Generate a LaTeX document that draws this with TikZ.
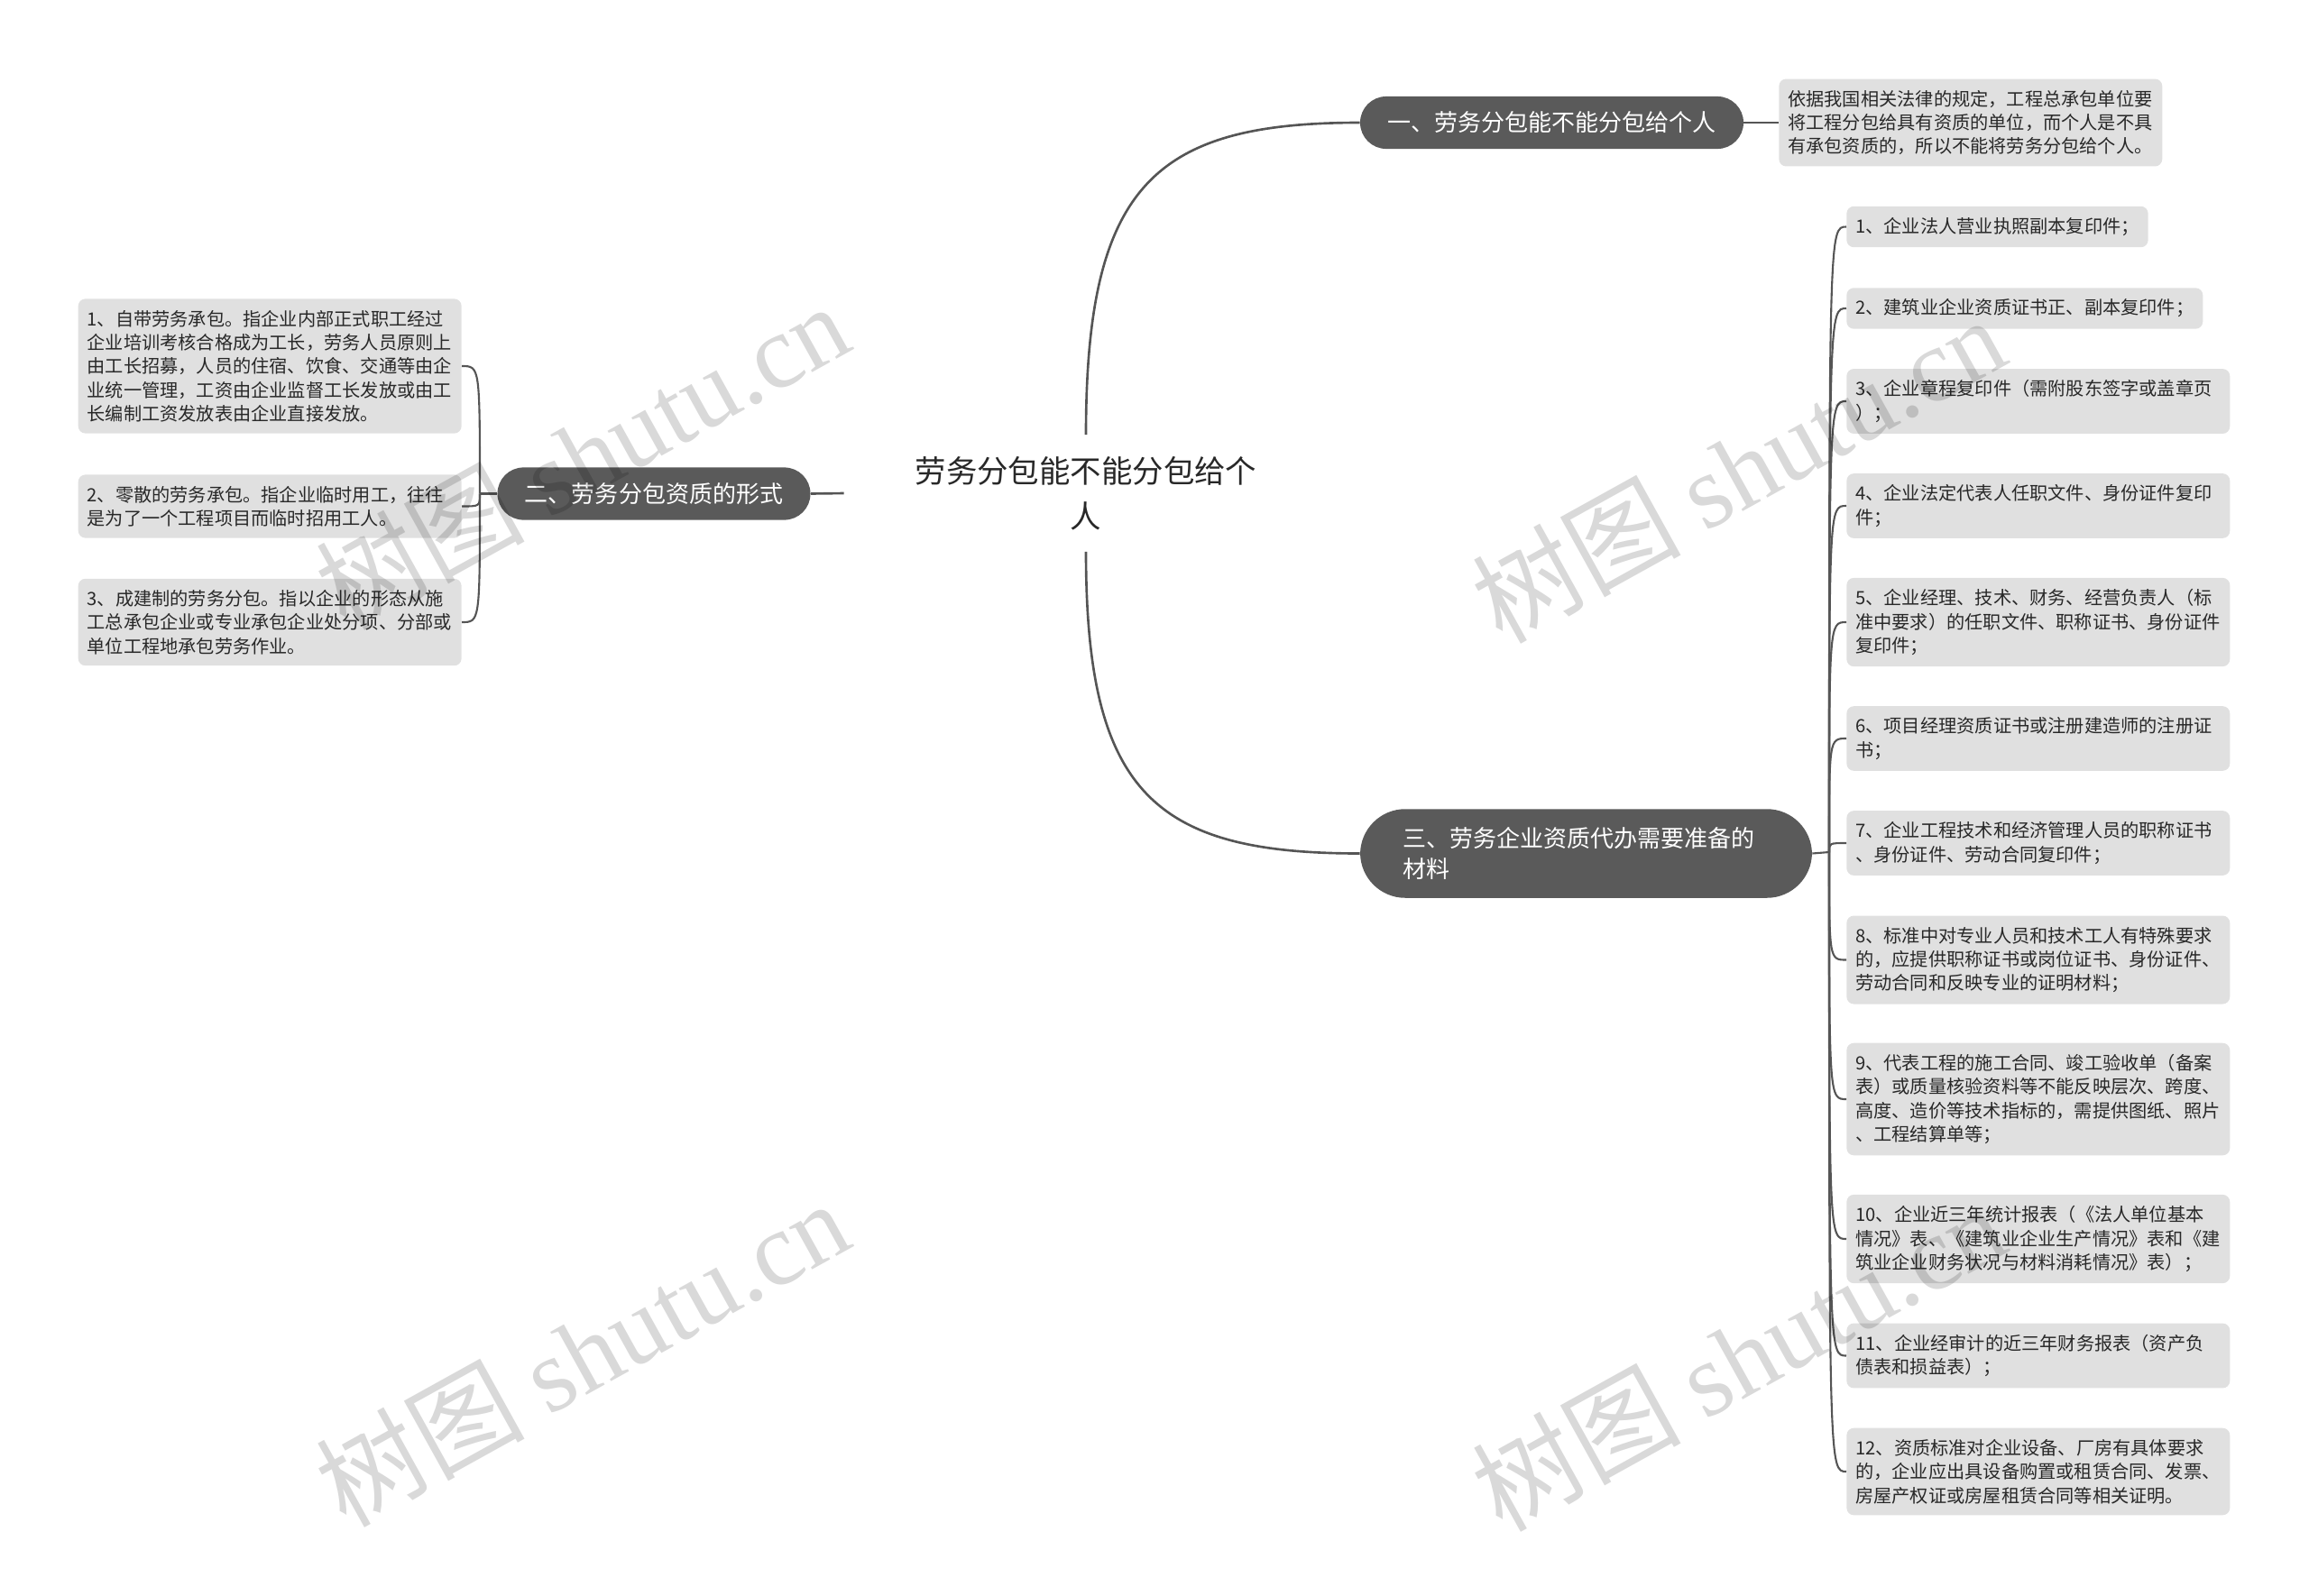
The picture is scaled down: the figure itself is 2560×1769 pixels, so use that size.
\documentclass[tikz,border=0pt]{standalone}
\usepackage{fontspec}
\setmainfont{Noto Sans CJK SC}
\newfontfamily\wmfont{Liberation Serif}
\usetikzlibrary{calc}
\definecolor{pill}{RGB}{90,90,90}
\definecolor{leafbg}{RGB}{224,224,224}
\definecolor{ink}{RGB}{40,40,40}
\definecolor{wire}{RGB}{85,85,85}

\begin{document}
\begin{tikzpicture}[x=0.02cm, y=-0.02cm,
    root/.style={minimum width=10.72cm, minimum height=2.58cm, align=center, text=ink,
                 font={\fontsize{19.6}{28.5}\selectfont}},
    br/.style={fill=pill, text=white, rounded corners=0.58cm, inner xsep=0.61cm,
               inner ysep=0.34cm, font={\fontsize{14.8}{19}\selectfont}},
    leaf/.style={fill=leafbg, text=ink, rounded corners=0.16cm, inner xsep=0.2cm,
                 inner ysep=0.25cm, align=left, font={\fontsize{11.5}{15}\selectfont}},
    wide/.style={leaf, text width=8.1cm},
    link/.style={draw=wire, line width=1.5pt},
    twig/.style={draw=wire, line width=1.2pt},
    wm/.style={text=black, text opacity=0.15, rotate=29,
               font={\fontsize{66}{66}\selectfont}}]
  \useasboundingbox (0,0) rectangle (2560,1769);

  % ---------- centre and main branches ------------------------------------
  \node[root] (root) at (1204,547) {劳务分包能不能分包给个\\人};
  \node[br] (b1) at (1720.5,136) {一、劳务分包能不能分包给个人};
  \node[br] (b2) at (725,547.5) {二、劳务分包资质的形式};
  \node[br, align=left, text width=8.14cm, inner xsep=0.94cm, inner ysep=0.41cm,
        rounded corners=1.0cm] (b3) at (1758.5,946.5)
    {三、劳务企业资质代办需要准备的\\材料};

  \draw[link] (root.north)
    .. controls ($(root.north)!0.8!(root.north |- b1.west)$)
            and ($(root.north |- b1.west)!0.25!(b1.west)$) .. (b1.west);
  \draw[link] (root.south)
    .. controls ($(root.south)!0.8!(root.south |- b3.west)$)
            and ($(root.south |- b3.west)!0.25!(b3.west)$) .. (b3.west);
  \draw[link] (root.west) -- (b2.east);

  % ---------- (1) ---------------------------------------------------------
  \node[wide, anchor=west] (r0) at (1972,136)
    {依据我国相关法律的规定，工程总承包单位要\\将工程分包给具有资质的单位，而个人是不具\\有承包资质的，所以不能将劳务分包给个人。};
  \draw[twig] (b1.east) -- (r0.west);

  % ---------- (2) ---------------------------------------------------------
  \coordinate (jl) at (532,547.5);
  \node[wide, anchor=east] (l1) at (512,406)
    {1、自带劳务承包。指企业内部正式职工经过\\企业培训考核合格成为工长，劳务人员原则上\\由工长招募，人员的住宿、饮食、交通等由企\\业统一管理，工资由企业监督工长发放或由工\\长编制工资发放表由企业直接发放。};
  \node[wide, anchor=east] (l2) at (512,561.5)
    {2、零散的劳务承包。指企业临时用工，往往\\是为了一个工程项目而临时招用工人。};
  \node[wide, anchor=east] (l3) at (512,690)
    {3、成建制的劳务分包。指以企业的形态从施\\工总承包企业或专业承包企业处分项、分部或\\单位工程地承包劳务作业。};
  \draw[twig] (b2.west) -- (jl);
  \foreach \k in {1,2,3} { \draw[twig] (jl) .. controls (jl |- l\k.east) .. (l\k.east); }

  % ---------- (3) ---------------------------------------------------------
  \coordinate (jr) at (2028,945);
  \node[leaf, anchor=west] (r1) at (2047,251.5) {1、企业法人营业执照副本复印件；};
  \node[leaf, anchor=west] (r2) at (2047,342) {2、建筑业企业资质证书正、副本复印件；};
  \node[wide, anchor=west] (r3) at (2047,445)
    {3、企业章程复印件（需附股东签字或盖章页\\）；};
  \node[wide, anchor=west] (r4) at (2047,561)
    {4、企业法定代表人任职文件、身份证件复印\\件；};
  \node[wide, anchor=west] (r5) at (2047,690)
    {5、企业经理、技术、财务、经营负责人（标\\准中要求）的任职文件、职称证书、身份证件\\复印件；};
  \node[wide, anchor=west] (r6) at (2047,819)
    {6、项目经理资质证书或注册建造师的注册证\\书；};
  \node[wide, anchor=west] (r7) at (2047,935)
    {7、企业工程技术和经济管理人员的职称证书\\、身份证件、劳动合同复印件；};
  \node[wide, anchor=west] (r8) at (2047,1064.5)
    {8、标准中对专业人员和技术工人有特殊要求\\的，应提供职称证书或岗位证书、身份证件、\\劳动合同和反映专业的证明材料；};
  \node[wide, anchor=west] (r9) at (2047,1219)
    {9、代表工程的施工合同、竣工验收单（备案\\表）或质量核验资料等不能反映层次、跨度、\\高度、造价等技术指标的，需提供图纸、照片\\、工程结算单等；};
  \node[wide, anchor=west] (r10) at (2047,1374)
    {10、企业近三年统计报表（《法人单位基本\\情况》表、《建筑业企业生产情况》表和《建\\筑业企业财务状况与材料消耗情况》表）；};
  \node[wide, anchor=west] (r11) at (2047,1503.5)
    {11、企业经审计的近三年财务报表（资产负\\债表和损益表）；};
  \node[wide, anchor=west] (r12) at (2047,1632)
    {12、资质标准对企业设备、厂房有具体要求\\的，企业应出具设备购置或租赁合同、发票、\\房屋产权证或房屋租赁合同等相关证明。};
  \draw[twig] (b3.east) -- (jr);
  \foreach \k in {1,...,12} { \draw[twig] (jr) .. controls (jr |- r\k.west) .. (r\k.west); }

  % ---------- watermarks --------------------------------------------------
  \node[wm] (wm1) at (645,505) {树图 {\wmfont shutu.cn}};
  \node[wm] (wm2) at (1927,520) {树图 {\wmfont shutu.cn}};
  \node[wm] (wm3) at (645,1500) {树图 {\wmfont shutu.cn}};
  \node[wm] (wm4) at (1927,1505) {树图 {\wmfont shutu.cn}};
\end{tikzpicture}
\end{document}
